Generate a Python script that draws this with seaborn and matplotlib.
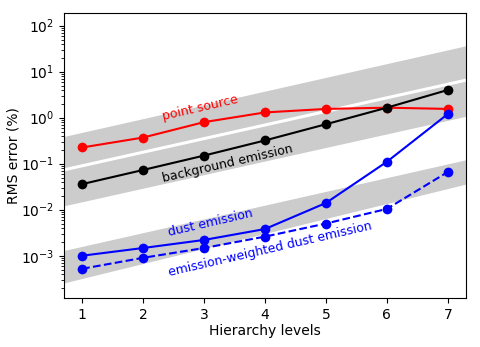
import matplotlib
matplotlib.use("Agg")
import matplotlib.pyplot as plt
import seaborn as sns
import numpy as np
import pandas as pd

levels = [1, 2, 3, 4, 5, 6, 7]
point_source = [0.225, 0.37, 0.80, 1.30, 1.55, 1.65, 1.55]
background = [0.036, 0.073, 0.15, 0.32, 0.72, 1.65, 4.0]
dust = [1.0e-3, 1.47e-3, 2.2e-3, 3.8e-3, 0.014, 0.11, 1.2]
dust_weighted = [5.2e-4, 9.0e-4, 1.47e-3, 2.6e-3, 5.0e-3, 0.0104, 0.066]

# guide bands (edge values read at x = 0.5 and x = 7.5)
band_x = [0.5, 7.5]
ps_band_top = [0.34, 42.0]
ps_band_bottom = [0.064, 7.5]
bg_band_top = [0.064, 7.5]
bg_band_bottom = [0.0106, 1.23]
dust_band_top = [1.13e-3, 0.14]
dust_band_bottom = [2.2e-4, 0.042]

fig = plt.figure(figsize=(4.8, 3.47), dpi=100)
ax = fig.add_axes([0.133, 0.141, 0.838, 0.822])

band_color = "#cccccc"
ax.fill_between(band_x, ps_band_bottom, ps_band_top, color=band_color, lw=0, zorder=0)
ax.fill_between(band_x, bg_band_bottom, bg_band_top, color=band_color, lw=0, zorder=0)
ax.fill_between(band_x, dust_band_bottom, dust_band_top, color=band_color, lw=0, zorder=0)
ax.plot(band_x, ps_band_bottom, color="white", lw=2.2, zorder=1)

df = pd.DataFrame({"level": levels, "ps": point_source, "bg": background,
                   "dust": dust, "dw": dust_weighted})
kw = dict(marker="o", markersize=7, markeredgewidth=0, linewidth=1.5, ax=ax, zorder=3)
sns.lineplot(data=df, x="level", y="ps", color="red", **kw)
sns.lineplot(data=df, x="level", y="bg", color="black", **kw)
sns.lineplot(data=df, x="level", y="dust", color="blue", **kw)
sns.lineplot(data=df, x="level", y="dw", color="blue", linestyle="--", **kw)

ax.set_yscale("log")
ax.set_xlim(0.7, 7.3)
ax.set_ylim(1.2e-4, 190)
ax.set_xticks(levels)
ax.set_xlabel("Hierarchy levels", labelpad=1.5)
ax.set_ylabel("RMS error (%)", labelpad=0)

rot = 13
tkw = dict(ha="center", va="center", rotation=rot, rotation_mode="anchor", fontsize=9)
ax.text(2.94, 1.6, "point source", color="red", **tkw)
ax.text(3.38, 0.10, "background emission", color="black", **tkw)
ax.text(3.1, 5.3e-3, "dust emission", color="blue", **tkw)
ax.text(4.08, 1.4e-3, "emission-weighted dust emission", color="blue", **tkw)

fig.savefig("out.png", dpi=100)
